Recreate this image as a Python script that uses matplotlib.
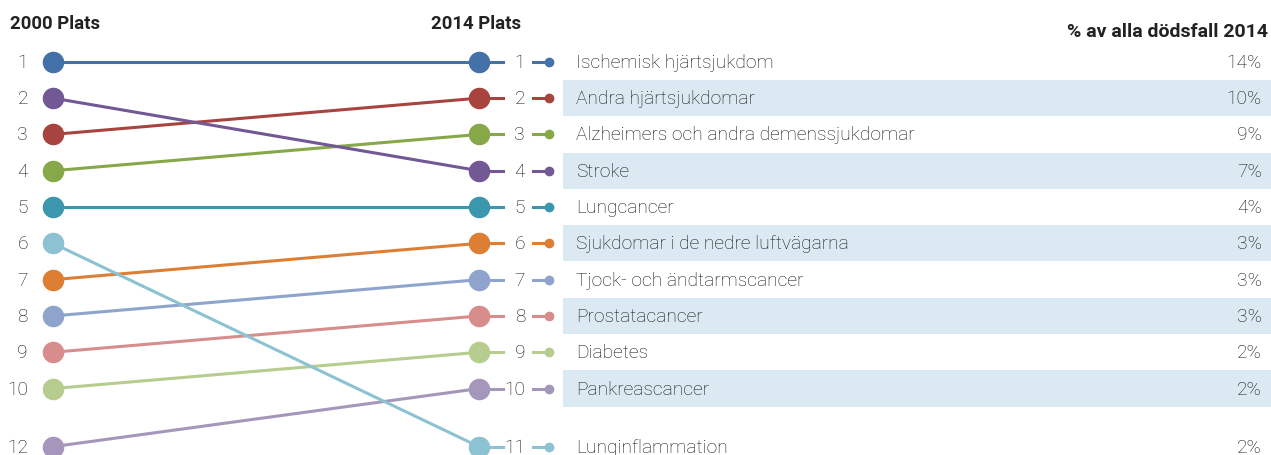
import matplotlib.pyplot as plt

causes = ["Ischemisk hjärtsjukdom", "Andra hjärtsjukdomar",
          "Alzheimers och andra demenssjukdomar", "Stroke", "Lungcancer",
          "Sjukdomar i de nedre luftvägarna", "Tjock- och ändtarmscancer",
          "Prostatacancer", "Diabetes", "Pankreascancer", "Lunginflammation"]
rank_2014 = [1, 2, 3, 4, 5, 6, 7, 8, 9, 10, 11]
rank_2000 = [1, 3, 4, 2, 5, 7, 8, 9, 10, 12, 6]
share_2014 = [14, 10, 9, 7, 4, 3, 3, 3, 2, 2, 2]
colors = ["#4472a8", "#a84440", "#87a848", "#725894", "#3b96ae", "#dc7f35",
          "#8ea4cc", "#d68d8b", "#b7cd90", "#a596bb", "#8cc2d2"]

plt.rcParams['font.family'] = ['Roboto', 'DejaVu Sans']

# the last row sits a bit lower than the others
all_ranks = sorted(set(rank_2000) | set(rank_2014))
def row_pos(r):
    i = all_ranks.index(r) + 1
    return i if r <= 10 else 11.6

fig = plt.figure(figsize=(12.71, 4.56), dpi=100)
ax = fig.add_axes([0, 0, 1, 1])
ax.set_xlim(0, 1271)
ax.set_ylim(11.83, -0.73)
ax.axis('off')

x_left, x_right = 53, 479
txt = "#111111"
fs = 13.8

for i, name in enumerate(causes):
    y0 = row_pos(rank_2000[i])
    y1 = row_pos(rank_2014[i])
    c = colors[i]
    if i % 2 == 1:
        ax.fill_between([563, 1271], y1 - 0.5, y1 + 0.5, color="#dbeaf2", lw=0, zorder=0)
    ax.plot([x_left, x_right], [y0, y1], color=c, lw=2.2, zorder=2, solid_capstyle='butt')
    ax.plot([x_left, x_right], [y0, y1], 'o', color=c, ms=14.5, zorder=3)
    ax.plot([x_right, 503], [y1, y1], color=c, lw=2.2, zorder=2)
    ax.plot([533, 549], [y1, y1], color=c, lw=2.2, zorder=2)
    ax.plot([549], [y1], 'o', color=c, ms=6, zorder=3)
    ax.text(28, y0, str(rank_2000[i]), ha='right', va='center', fontsize=fs,
            fontweight='light', color=txt)
    ax.text(525, y1, str(rank_2014[i]), ha='right', va='center', fontsize=fs,
            fontweight='light', color=txt)
    ax.text(576, y1, name, ha='left', va='center', fontsize=fs, fontweight='light', color=txt)
    ax.text(1262, y1, f"{share_2014[i]}%", ha='right', va='center', fontsize=fs,
            fontweight='light', color=txt)

hy = row_pos(1) - 1.07
hfs = 13.4
ax.text(10, hy, "2000 Plats", ha='left', va='center', fontsize=hfs, fontweight='bold', color="#222222")
ax.text(521, hy, "2014 Plats", ha='right', va='center', fontsize=hfs, fontweight='bold', color="#222222")
ax.text(1268, hy + 0.22, "% av alla dödsfall 2014", ha='right', va='center', fontsize=hfs + 0.6,
        fontweight='bold', color="#222222")

fig.savefig("out.png", dpi=100)
